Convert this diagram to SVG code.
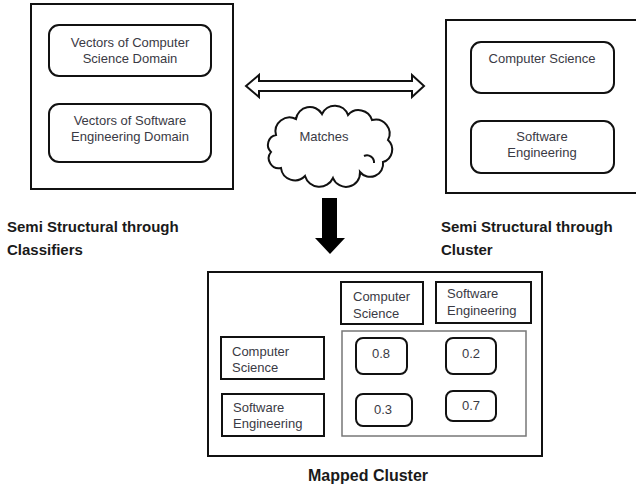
<svg xmlns="http://www.w3.org/2000/svg" width="636" height="487" viewBox="0 0 636 487">
  <style>
    .frame { fill: #ffffff; stroke: #111111; stroke-width: 2; }
    .card { fill: #ffffff; stroke: #111111; stroke-width: 2; }
    .grid { fill: #ffffff; stroke: #777777; stroke-width: 1.5; }
    .txt { font-family: "Liberation Sans", Arial, sans-serif; font-size: 13px; fill: #3a3a44; }
    .mid { text-anchor: middle; }
    .lbl { font-family: "Liberation Sans", Arial, sans-serif; font-size: 15px; font-weight: bold; fill: #1a1a1a; }
    .cap { font-family: "Liberation Sans", Arial, sans-serif; font-size: 16px; font-weight: bold; fill: #1a1a1a; text-anchor: middle; }
  </style>
  <rect width="636" height="487" fill="#ffffff"/>

  <!-- classifier side -->
  <g id="classifiers">
    <rect class="frame" x="31" y="4" width="202" height="185"/>
    <g id="vec-cs">
      <rect class="card" x="49" y="25" width="162" height="51" rx="10"/>
      <text class="txt mid" x="130" y="47">Vectors of Computer</text>
      <text class="txt mid" x="130" y="63">Science Domain</text>
    </g>
    <g id="vec-se">
      <rect class="card" x="49" y="104" width="162" height="58" rx="10"/>
      <text class="txt mid" x="130" y="125">Vectors of Software</text>
      <text class="txt mid" x="130" y="141">Engineering Domain</text>
    </g>
  </g>

  <!-- cluster side -->
  <g id="clusters">
    <rect class="frame" x="446" y="20" width="200" height="173"/>
    <g id="cl-cs">
      <rect class="card" x="471" y="42" width="143" height="51" rx="10"/>
      <text class="txt mid" x="542" y="63">Computer Science</text>
    </g>
    <g id="cl-se">
      <rect class="card" x="471" y="121" width="143" height="52" rx="10"/>
      <text class="txt mid" x="542" y="141">Software</text>
      <text class="txt mid" x="542" y="157">Engineering</text>
    </g>
  </g>

  <g id="matches">
    <path fill="#ffffff" stroke="#111111" stroke-width="2"
      d="M276,135 A14,14 0 0 1 296,119 A14,14 0 0 1 322,114 A14,14 0 0 1 348,115 A14,14 0 0 1 372,120 A14,14 0 0 1 388,140 A13,13 0 0 1 383,162 A13,13 0 0 1 360,172 A14,14 0 0 1 333,178 A15,15 0 0 1 305,176 A14,14 0 0 1 281,168 A10,10 0 0 1 271,152 A10,10 0 0 1 276,135 Z"/>
    <path fill="none" stroke="#111111" stroke-width="2" d="M364,156 A7,7 0 0 1 374,163"/>
    <text class="txt mid" x="324" y="141">Matches</text>
  </g>

  <g id="labels">
    <text class="lbl" x="7" y="232">Semi Structural through</text>
    <text class="lbl" x="7" y="255">Classifiers</text>
    <text class="lbl" x="441" y="232">Semi Structural through</text>
    <text class="lbl" x="441" y="255">Cluster</text>
  </g>

  <!-- mapped result -->
  <g id="mapped">
    <rect class="frame" x="208" y="272" width="334" height="184"/>
    <g id="col-cs">
      <rect class="frame" x="341" y="282" width="82" height="42"/>
      <text class="txt" x="353" y="301">Computer</text>
      <text class="txt" x="353" y="318">Science</text>
    </g>
    <g id="col-se">
      <rect class="frame" x="436" y="282" width="95" height="41"/>
      <text class="txt" x="447" y="298">Software</text>
      <text class="txt" x="447" y="315">Engineering</text>
    </g>
    <g id="row-cs">
      <rect class="frame" x="221" y="337" width="103" height="42"/>
      <text class="txt" x="232" y="356">Computer</text>
      <text class="txt" x="232" y="372">Science</text>
    </g>
    <g id="row-se">
      <rect class="frame" x="222" y="394" width="102" height="42"/>
      <text class="txt" x="233" y="412">Software</text>
      <text class="txt" x="233" y="428">Engineering</text>
    </g>
    <g id="scores">
      <rect class="grid" x="342" y="331" width="184" height="105"/>
      <g id="v-cs-cs">
        <rect class="card" x="356" y="338" width="51" height="36" rx="7"/>
        <text class="txt mid" x="381" y="358">0.8</text>
      </g>
      <g id="v-cs-se">
        <rect class="card" x="446" y="338" width="50" height="36" rx="7"/>
        <text class="txt mid" x="471" y="358">0.2</text>
      </g>
      <g id="v-se-cs">
        <rect class="card" x="356" y="394" width="56" height="32" rx="7"/>
        <text class="txt mid" x="383" y="414">0.3</text>
      </g>
      <g id="v-se-se">
        <rect class="card" x="446" y="391" width="50" height="30" rx="7"/>
        <text class="txt mid" x="471" y="410">0.7</text>
      </g>
    </g>
    <text class="cap" x="368" y="481">Mapped Cluster</text>
  </g>

  <g id="connectors">
    <!-- two-way hollow arrow -->
    <path fill="#ffffff" stroke="#111111" stroke-width="2" stroke-linejoin="miter"
      d="M246,86 L259,75 L259,81 L412,81 L412,75 L424,86 L412,97 L412,91 L259,91 L259,97 Z"/>
    <!-- solid down arrow -->
    <path fill="#000000" d="M322,198 L337,198 L337,238 L345,238 L330,254 L315,238 L322,238 Z"/>
  </g>
</svg>
